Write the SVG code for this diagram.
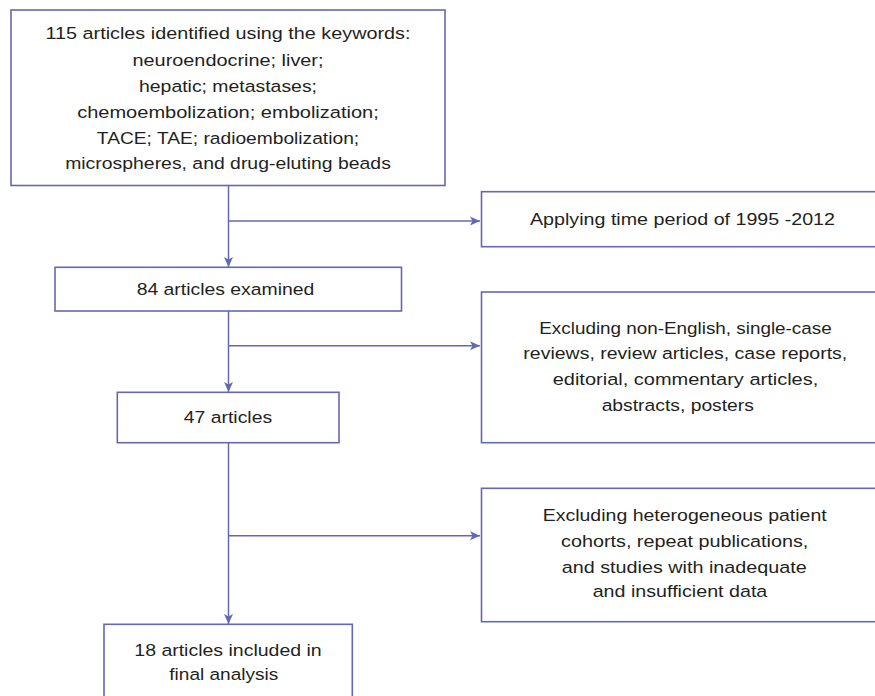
<svg xmlns="http://www.w3.org/2000/svg" width="875" height="696" viewBox="0 0 875 696">
<style>
.box{fill:#fff;stroke:#6468b4;stroke-width:1.6}
.ln{fill:none;stroke:#6468b4;stroke-width:1.5}
text{font-family:"Liberation Sans",Arial,sans-serif;font-size:16.3px;fill:#231f20;text-anchor:middle}
</style>
<defs>
<marker id="arr" markerUnits="userSpaceOnUse" markerWidth="12" markerHeight="12" viewBox="0 0 12 12" refX="11" refY="6" orient="auto">
<path d="M1,1.5 L11,6 L1,10.5 L3.5,6 z" fill="#6468b4"/>
</marker>
</defs>
<rect width="875" height="696" fill="#fff"/>
<g id="connectors">
<line class="ln" x1="228.5" y1="185.5" x2="228.5" y2="267" marker-end="url(#arr)"/>
<line class="ln" x1="228.5" y1="221" x2="480" y2="221" marker-end="url(#arr)"/>
<line class="ln" x1="228.5" y1="311" x2="228.5" y2="392" marker-end="url(#arr)"/>
<line class="ln" x1="228.5" y1="345.7" x2="480" y2="345.7" marker-end="url(#arr)"/>
<line class="ln" x1="228.5" y1="442.7" x2="228.5" y2="624" marker-end="url(#arr)"/>
<line class="ln" x1="228.5" y1="535.7" x2="480" y2="535.7" marker-end="url(#arr)"/>
</g>
<g id="identified">
<rect class="box" x="11" y="10" width="434" height="175.5"/>
<text x="228" y="39" textLength="365" lengthAdjust="spacingAndGlyphs">115 articles identified using the keywords:</text>
<text x="228" y="65.5" textLength="191" lengthAdjust="spacingAndGlyphs">neuroendocrine; liver;</text>
<text x="228" y="91.5" textLength="178" lengthAdjust="spacingAndGlyphs">hepatic; metastases;</text>
<text x="228" y="117.5" textLength="301.7" lengthAdjust="spacingAndGlyphs">chemoembolization; embolization;</text>
<text x="228" y="143.5" textLength="262.3" lengthAdjust="spacingAndGlyphs">TACE; TAE; radioembolization;</text>
<text x="228" y="169" textLength="325.7" lengthAdjust="spacingAndGlyphs">microspheres, and drug-eluting beads</text>
</g>
<g id="time-period">
<rect class="box" x="481.5" y="191.7" width="400" height="55"/>
<text x="682.5" y="224.5" textLength="305" lengthAdjust="spacingAndGlyphs">Applying time period of 1995 -2012</text>
</g>
<g id="examined">
<rect class="box" x="55" y="267.3" width="346.5" height="43.7"/>
<text x="225.5" y="295" textLength="177.6" lengthAdjust="spacingAndGlyphs">84 articles examined</text>
</g>
<g id="exclusion1">
<rect class="box" x="481.5" y="292" width="400" height="150.7"/>
<text x="685.5" y="333.5" textLength="292.4" lengthAdjust="spacingAndGlyphs">Excluding non-English, single-case</text>
<text x="685.3" y="359" textLength="324" lengthAdjust="spacingAndGlyphs">reviews, review articles, case reports,</text>
<text x="685.5" y="385" textLength="265.6" lengthAdjust="spacingAndGlyphs">editorial, commentary articles,</text>
<text x="677.8" y="410.5" textLength="152.3" lengthAdjust="spacingAndGlyphs">abstracts, posters</text>
</g>
<g id="forty-seven">
<rect class="box" x="117.3" y="392.3" width="221.7" height="50.4"/>
<text x="228" y="422.5" textLength="88.3" lengthAdjust="spacingAndGlyphs">47 articles</text>
</g>
<g id="exclusion2">
<rect class="box" x="481.5" y="488.3" width="400" height="133.4"/>
<text x="684.7" y="520.5" textLength="284" lengthAdjust="spacingAndGlyphs">Excluding heterogeneous patient</text>
<text x="684.7" y="547" textLength="247.3" lengthAdjust="spacingAndGlyphs">cohorts, repeat publications,</text>
<text x="684.2" y="572.5" textLength="245" lengthAdjust="spacingAndGlyphs">and studies with inadequate</text>
<text x="680" y="597" textLength="174.6" lengthAdjust="spacingAndGlyphs">and insufficient data</text>
</g>
<g id="included">
<rect class="box" x="104" y="624.3" width="248.3" height="90"/>
<text x="228" y="655.5" textLength="187.4" lengthAdjust="spacingAndGlyphs">18 articles included in</text>
<text x="223.8" y="680" textLength="109" lengthAdjust="spacingAndGlyphs">final analysis</text>
</g>
</svg>
